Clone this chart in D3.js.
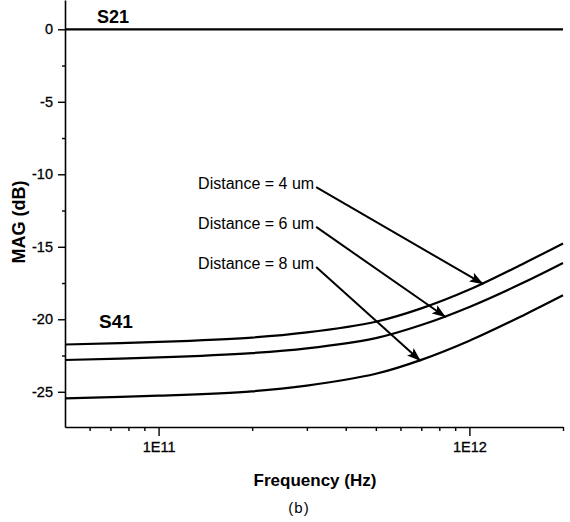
<!DOCTYPE html>
<html><head><meta charset="utf-8">
<script src="https://cdn.jsdelivr.net/npm/d3@7/dist/d3.min.js"></script>
<style>body{margin:0;background:#fff}svg{display:block}</style>
</head><body>
<svg id="c" width="570" height="522"></svg>
<script>
// ---- data ----
const freqs    = [5e10, 1e11, 2e11, 3e11, 5e11, 7e11, 1e12, 1.5e12, 2e12];
const s21      = [0, 0, 0, 0, 0, 0, 0, 0, 0];
const s41_4um  = [-21.74, -21.56, -21.26, -20.91, -20.17, -19.25, -17.95, -16.13, -14.77];
const s41_6um  = [-22.81, -22.63, -22.33, -22.01, -21.30, -20.40, -19.15, -17.45, -16.12];
const s41_8um  = [-25.45, -25.27, -24.97, -24.58, -23.76, -22.80, -21.48, -19.70, -18.35];
const yTicks   = [0, -5, -10, -15, -20, -25];
const yMinor   = [-2.5, -7.5, -12.5, -17.5, -22.5];
const xTicks   = [1e11, 1e12];
const xTickLabels = ["1E11", "1E12"];
const xMinor   = [6e10, 7e10, 8e10, 9e10, 2e11, 3e11, 4e11, 5e11, 6e11, 7e11, 8e11, 9e11, 2e12];
const distanceLabels = ["Distance = 4 um", "Distance = 6 um", "Distance = 8 um"];
const labelDb  = [-11.03, -13.77, -16.53];      // label baselines (dB)
const labelFreq = 1.34e11;                      // label left edge (Hz)
const arrowFreq = [1.11e12, 8.4e11, 6.97e11];   // where each arrow hits its curve

const svg = d3.select("#c");
const x = d3.scaleLog().domain([5e10, 2e12]).range([65, 563]);
const y = d3.scaleLinear().domain([-27.43, 2.02]).range([427, 0]);
const FONT = "'Liberation Sans', Arial, sans-serif";

// marker
svg.append("defs").append("marker")
  .attr("id", "ah").attr("markerUnits", "userSpaceOnUse")
  .attr("viewBox", "0 0 14 10").attr("refX", 14).attr("refY", 5)
  .attr("markerWidth", 14).attr("markerHeight", 10).attr("orient", "auto")
  .append("path").attr("d", "M0,0 L14,5 L0,10 L3,5 Z").attr("fill", "#000");

// curves
const line = d3.line().x((d, i) => x(freqs[i])).y(d => y(d)).curve(d3.curveCatmullRom.alpha(0.5));
const series = [s21, s41_4um, s41_6um, s41_8um];
const paths = series.map(s => svg.append("path").datum(s)
  .attr("d", line).attr("fill", "none").attr("stroke", "#000")
  .attr("stroke-width", 2.2).node());

// axes
svg.append("g").attr("transform", "translate(65,0)")
  .call(d3.axisLeft(y).tickValues(yTicks).tickSize(7).tickSizeOuter(0).tickPadding(5)
    .tickFormat(d => String(d)));
svg.append("g").attr("transform", "translate(65,0)")
  .call(d3.axisLeft(y).tickValues(yMinor).tickSize(3).tickSizeOuter(0).tickFormat(""))
  .select(".domain").remove();
svg.append("g").attr("transform", "translate(0,427)")
  .call(d3.axisBottom(x).tickValues(xTicks).tickSize(9).tickSizeOuter(0).tickPadding(6)
    .tickFormat((d, i) => xTickLabels[i]));
svg.append("g").attr("transform", "translate(0,427)")
  .call(d3.axisBottom(x).tickValues(xMinor).tickSize(4).tickSizeOuter(0).tickFormat(""))
  .select(".domain").remove();
svg.selectAll(".domain").attr("stroke-width", 1.6);
svg.selectAll(".tick line").attr("stroke-width", 1.4);
svg.selectAll(".tick text").attr("font-family", FONT).attr("font-size", 14.5)
  .attr("fill", "#000").attr("stroke", "#000").attr("stroke-width", 0.3);

// axis titles
svg.append("text").attr("x", 315).attr("y", 486).attr("text-anchor", "middle")
  .attr("font-family", FONT).attr("font-weight", "bold").attr("font-size", 17)
  .text("Frequency (Hz)");
svg.append("text").attr("x", 299).attr("y", 513).attr("text-anchor", "middle")
  .attr("font-family", FONT).attr("font-size", 15).attr("letter-spacing", 1)
  .text("(b)");
svg.append("text").attr("transform", "translate(25,222) rotate(-90)").attr("text-anchor", "middle")
  .attr("font-family", FONT).attr("font-weight", "bold").attr("font-size", 18)
  .text("MAG (dB)");

// series labels
svg.append("text").attr("x", 97).attr("y", 23).attr("font-family", FONT)
  .attr("font-weight", "bold").attr("font-size", 18).text("S21");
svg.append("text").attr("x", 99).attr("y", 328).attr("font-family", FONT)
  .attr("font-weight", "bold").attr("font-size", 19).text("S41");

// point on rendered path at given pixel x
function yOnPath(p, px) {
  const L = p.getTotalLength();
  let lo = 0, hi = L;
  for (let k = 0; k < 40; k++) {
    const m = (lo + hi) / 2;
    if (p.getPointAtLength(m).x < px) lo = m; else hi = m;
  }
  return p.getPointAtLength(lo).y;
}

// annotations
distanceLabels.forEach((t, i) => {
  const tx = x(labelFreq), ty = y(labelDb[i]);
  const txt = svg.append("text").attr("x", tx).attr("y", ty)
    .attr("font-family", FONT).attr("font-size", 16).text(t);
  const w = txt.node().getComputedTextLength();
  const ex = x(arrowFreq[i]);
  const ey = yOnPath(paths[i + 1], ex) + 1;
  svg.append("line").attr("x1", tx + w + 2).attr("y1", ty - 2)
    .attr("x2", ex).attr("y2", ey)
    .attr("stroke", "#000").attr("stroke-width", 2)
    .attr("marker-end", "url(#ah)");
});
</script>
</body></html>
